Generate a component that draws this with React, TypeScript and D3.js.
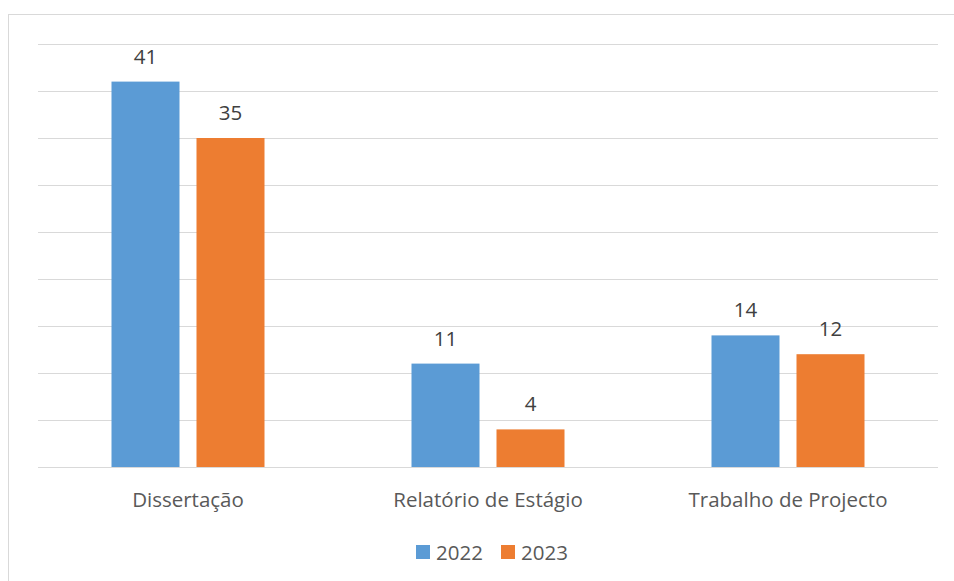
import { useEffect, useRef } from 'react';
import * as d3 from 'd3';

const categories = ['Dissertação', 'Relatório de Estágio', 'Trabalho de Projecto'];
const seriesNames = ['2022', '2023'];
const values2022 = [41, 11, 14];
const values2023 = [35, 4, 12];
const colors = ['#5b9bd5', '#ed7d31'];
const yTicks = [0, 5, 10, 15, 20, 25, 30, 35, 40, 45];

const W = 954;
const H = 581;
const FONT = "'Open Sans', sans-serif";
const TEXT = '#595959';
const FS = 20.5;

export default function App() {
  const svgRef = useRef<SVGSVGElement>(null);

  useEffect(() => {
    if (!svgRef.current) return;
    const svg = d3.select(svgRef.current);
    svg.selectAll('*').remove();

    const margin = { top: 44, right: 16, bottom: 114, left: 38 };
    const innerWidth = W - margin.left - margin.right;
    const innerHeight = H - margin.top - margin.bottom;

    // chart frame
    svg.append('rect')
      .attr('x', 8.5)
      .attr('y', 14.5)
      .attr('width', W)
      .attr('height', H)
      .attr('fill', '#fff')
      .attr('stroke', '#d9d9d9');

    const g = svg.append('g').attr('transform', `translate(${margin.left},${margin.top})`);

    const x0 = d3.scaleBand().domain(categories).range([0, innerWidth]);
    const x1 = d3.scaleBand().domain(seriesNames)
      .range([-76.5, 76.5])
      .paddingInner(0.2);
    const y = d3.scaleLinear().domain([0, 45]).range([innerHeight, 0]);

    // gridlines
    g.append('g')
      .selectAll('line')
      .data(yTicks)
      .enter()
      .append('line')
      .attr('x1', 0)
      .attr('x2', innerWidth)
      .attr('y1', (d) => Math.round(y(d)) + 0.5)
      .attr('y2', (d) => Math.round(y(d)) + 0.5)
      .attr('stroke', '#d9d9d9')
      .attr('stroke-width', 1);

    const rows = categories.map((c, i) => ({
      cat: c,
      vals: [
        { s: seriesNames[0], v: values2022[i], color: colors[0] },
        { s: seriesNames[1], v: values2023[i], color: colors[1] },
      ],
    }));

    const groups = g.selectAll('g.cat')
      .data(rows)
      .enter()
      .append('g')
      .attr('class', 'cat')
      .attr('transform', (d) => `translate(${x0(d.cat)! + x0.bandwidth() / 2},0)`);

    groups.selectAll('rect')
      .data((d) => d.vals)
      .enter()
      .append('rect')
      .attr('x', (d) => x1(d.s)!)
      .attr('width', x1.bandwidth())
      .attr('y', (d) => y(d.v))
      .attr('height', (d) => innerHeight - y(d.v))
      .attr('fill', (d) => d.color);

    groups.selectAll('text')
      .data((d) => d.vals)
      .enter()
      .append('text')
      .attr('x', (d) => x1(d.s)! + x1.bandwidth() / 2)
      .attr('y', (d) => y(d.v) - 18)
      .attr('text-anchor', 'middle')
      .attr('font-family', FONT)
      .attr('font-size', FS)
      .attr('fill', '#404040')
      .text((d) => d.v);

    // category labels
    g.selectAll('text.cat')
      .data(categories)
      .enter()
      .append('text')
      .attr('class', 'cat')
      .attr('x', (d) => x0(d)! + x0.bandwidth() / 2)
      .attr('y', innerHeight + 40)
      .attr('text-anchor', 'middle')
      .attr('font-family', FONT)
      .attr('font-size', FS)
      .attr('fill', TEXT)
      .text((d) => d);

    // legend
    const legend = svg.append('g').attr('transform', 'translate(416,545)');
    const items = legend.selectAll('g')
      .data(seriesNames)
      .enter()
      .append('g')
      .attr('transform', (_, i) => `translate(${i * 85},0)`);
    items.append('rect')
      .attr('width', 14)
      .attr('height', 14)
      .attr('fill', (_, i) => colors[i]);
    items.append('text')
      .attr('x', 20)
      .attr('y', 14.5)
      .attr('font-family', FONT)
      .attr('font-size', FS)
      .attr('fill', TEXT)
      .text((d) => d);
  }, []);

  return (
    <svg
      ref={svgRef}
      width={W}
      height={H}
      style={{ position: 'fixed', left: 0, top: 0, background: '#fff' }}
    />
  );
}
